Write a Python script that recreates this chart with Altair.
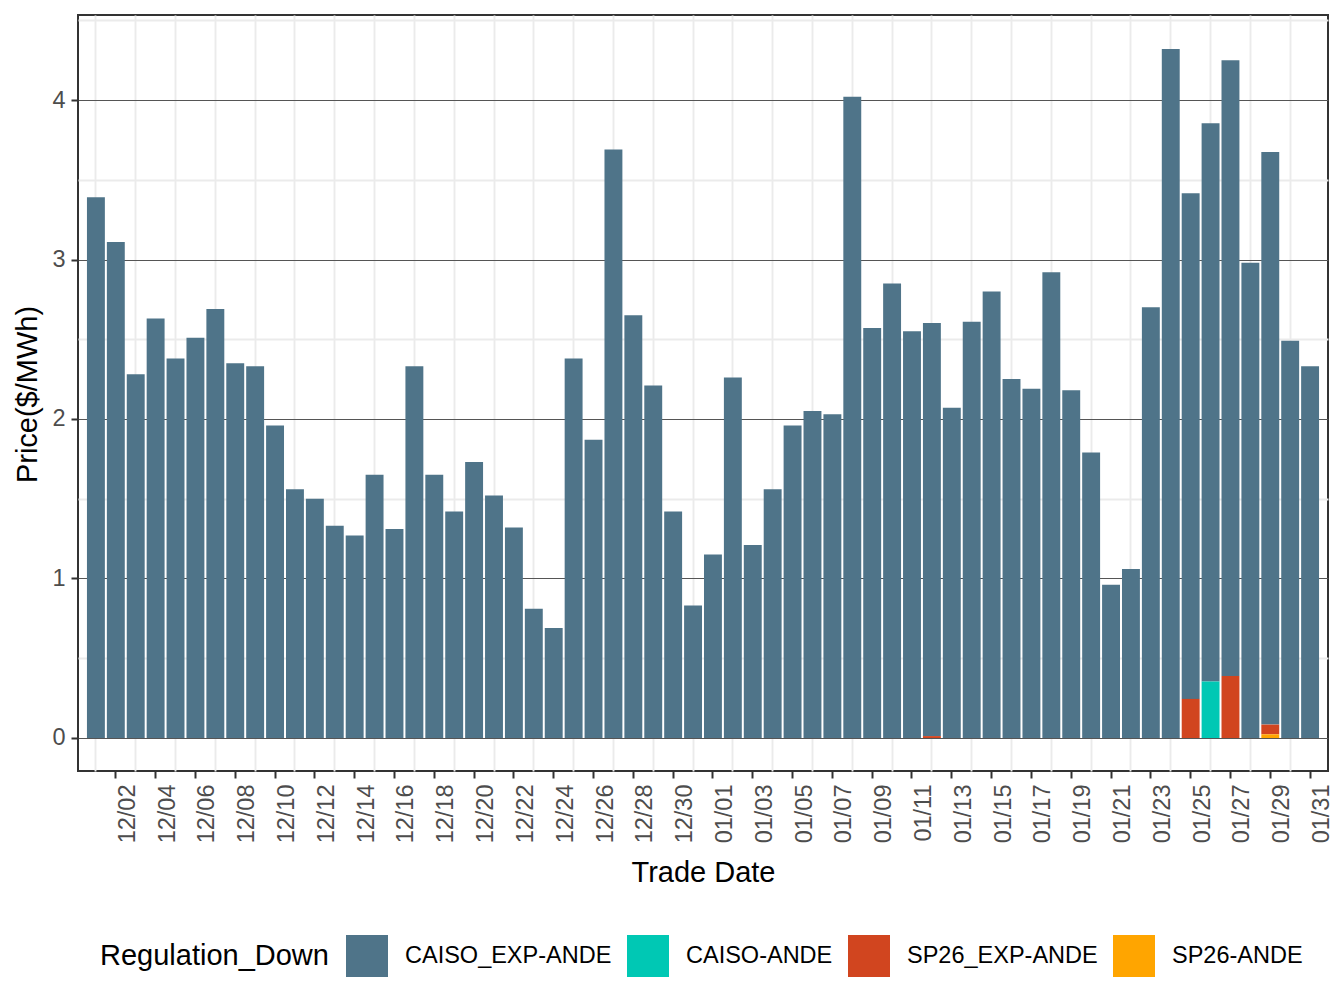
import altair as alt
import pandas as pd

# ---- data ----
dates = ["12/%02d" % d for d in range(1, 32)] + ["01/%02d" % d for d in range(1, 32)]

caiso_exp_ande = [
    3.39, 3.11, 2.28, 2.63, 2.38, 2.51, 2.69, 2.35, 2.33, 1.96, 1.56, 1.50, 1.33, 1.27, 1.65, 1.31,
    2.33, 1.65, 1.42, 1.73, 1.52, 1.32, 0.81, 0.69, 2.38, 1.87, 3.69, 2.65, 2.21, 1.42, 0.83,
    1.15, 2.26, 1.21, 1.56, 1.96, 2.05, 2.03, 4.02, 2.57, 2.85, 2.55, 2.59, 2.07, 2.61, 2.80, 2.25,
    2.19, 2.92, 2.18, 1.79, 0.96, 1.06, 2.70, 4.32, 3.17, 3.50, 3.86, 2.98, 3.59, 2.49, 2.33,
]
caiso_ande = {"01/26": 0.354}
sp26_exp_ande = {"01/12": 0.012, "01/25": 0.245, "01/27": 0.389, "01/29": 0.061}
sp26_ande = {"01/29": 0.023}

series = ["CAISO_EXP-ANDE", "CAISO-ANDE", "SP26_EXP-ANDE", "SP26-ANDE"]
colors = ["#4F7489", "#00C8B4", "#D1451F", "#FFA500"]
stack_rank = {"SP26-ANDE": 0, "SP26_EXP-ANDE": 1, "CAISO-ANDE": 2, "CAISO_EXP-ANDE": 3}

even_days = dates[1::2]
odd_days = dates[0::2]
major_y = [0, 1, 2, 3, 4]
minor_y = [0.5, 1.5, 2.5, 3.5, 4.5]

rows = []
for d, v in zip(dates, caiso_exp_ande):
    rows.append({"date": d, "series": "CAISO_EXP-ANDE", "price": v})
for name, dct in [("CAISO-ANDE", caiso_ande), ("SP26_EXP-ANDE", sp26_exp_ande), ("SP26-ANDE", sp26_ande)]:
    for d, v in dct.items():
        rows.append({"date": d, "series": name, "price": v})
df = pd.DataFrame(rows)
df["rank"] = df["series"].map(stack_rank)

FONT = "Liberation Sans"

xscale = alt.Scale(domain=dates, paddingInner=0.1, paddingOuter=0.45)
yscale = alt.Scale(domain=[-0.207, 4.533], nice=False, zero=False)
cscale = alt.Scale(domain=series, range=colors)

base = alt.Chart(df)

bars = base.mark_bar().encode(
    x=alt.X("date:O", scale=xscale, title="Trade Date",
            axis=alt.Axis(orient="bottom", values=even_days, grid=False, domain=False, bandPosition=0.5,
                          labelAngle=270, labelAlign="right", labelBaseline="top",
                          labelFontSize=23.5, labelColor="#4D4D4D", labelFont=FONT,
                          labelPadding=6, tickSize=7, tickWidth=2, tickColor="#333333",
                          titleFontSize=29, titleFont=FONT, titleFontWeight="normal", titleColor="#000000",
                          titleY=110, titleBaseline="alphabetic")),
    y=alt.Y("price:Q", scale=yscale, stack="zero", title="Price($/MWh)",
            axis=alt.Axis(orient="left", values=major_y, grid=True, gridColor="#555555", gridWidth=1,
                          domain=False,
                          labelFontSize=23.5, labelColor="#4D4D4D", labelFont=FONT, labelPadding=6,
                          tickSize=7, tickWidth=2, tickColor="#333333",
                          titleFontSize=29, titleFont=FONT, titleFontWeight="normal", titleColor="#000000",
                          titleX=-42, titleY=379, titleAngle=270, titleAlign="center",
                          titleBaseline="alphabetic")),
    color=alt.Color("series:N", scale=cscale, title="Regulation_Down",
                    legend=alt.Legend(orient="none", legendX=22, legendY=920, direction="horizontal",
                                      titleOrient="left", titleFontSize=29, titleFont=FONT,
                                      titleFontWeight="normal", titleColor="#000000", titlePadding=17,
                                      titleBaseline="middle", titleLimit=500,
                                      symbolType="square", symbolSize=1764, symbolStrokeWidth=0,
                                      symbolOpacity=1,
                                      labelFontSize=23.5, labelFont=FONT, labelColor="#000000",
                                      labelOffset=17, columnPadding=15, labelLimit=400)),
    order=alt.Order("rank:Q", sort="ascending"),
)

grid_layer = base.mark_bar(opacity=0).encode(
    x=alt.X("date:O", scale=xscale, title=None,
            axis=alt.Axis(orient="top", values=odd_days, grid=True, gridColor="#EBEBEB", gridWidth=1.9,
                          labels=False, ticks=False, domain=False, bandPosition=0.5)),
    y=alt.Y("price:Q", scale=yscale, stack="zero", title=None,
            axis=alt.Axis(orient="right", values=minor_y, grid=True, gridColor="#EBEBEB", gridWidth=1.9,
                          labels=False, ticks=False, domain=False)),
    detail="series:N",
    order=alt.Order("rank:Q", sort="ascending"),
)

chart = alt.layer(bars, grid_layer).resolve_axis(x="independent", y="independent").properties(
    width=1250, height=756,
    autosize=alt.AutoSizeParams(type="none"),
    padding={"left": 70, "top": 7, "right": 8, "bottom": 229},
    background="white",
).configure_view(stroke="#333333", strokeWidth=2)

chart.save("out.html", embed_options={"renderer": "svg", "actions": False})
